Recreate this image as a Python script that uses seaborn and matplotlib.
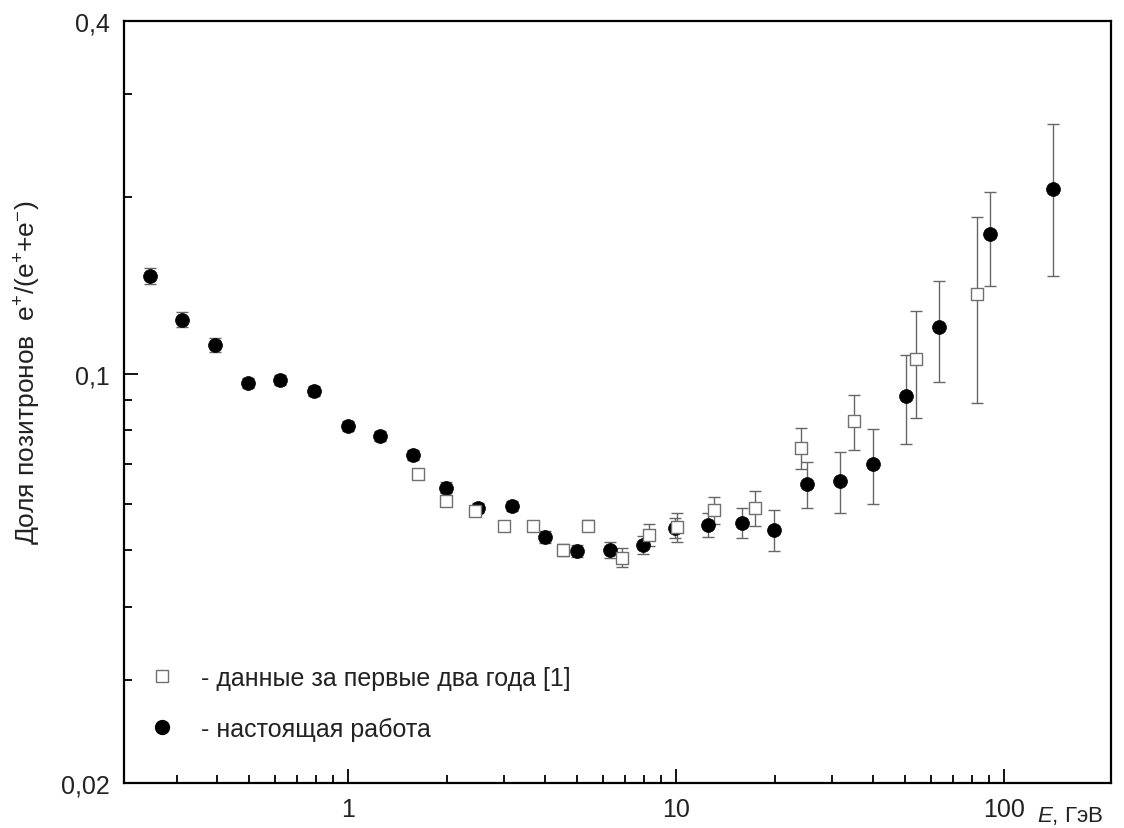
import matplotlib
matplotlib.use("Agg")
import matplotlib.pyplot as plt
import numpy as np
import pandas as pd
import seaborn as sns
from matplotlib.ticker import LogLocator, NullFormatter, FixedLocator, FixedFormatter
from matplotlib.lines import Line2D

# Present work: energy (GeV), positron fraction e+/(e+ + e-), symmetric error
energy_new = [0.249, 0.312, 0.393, 0.496, 0.621, 0.787, 1.00, 1.25, 1.58, 1.99,
              2.49, 3.16, 3.98, 4.99, 6.29, 7.93, 9.93, 12.5, 15.9, 19.9,
              25.1, 31.6, 39.8, 50.2, 63.4, 90.6, 141.0]
frac_new = [0.147, 0.1237, 0.1121, 0.0965, 0.0977, 0.0935, 0.0815, 0.0783, 0.0727, 0.0639,
            0.0590, 0.0595, 0.0526, 0.0498, 0.0500, 0.0510, 0.0545, 0.0552, 0.0556, 0.0541,
            0.0648, 0.0656, 0.0702, 0.0917, 0.1203, 0.1728, 0.207]
err_new = [0.0047, 0.0035, 0.0031, 0.0019, 0.0019, 0.0018, 0.0016, 0.0015, 0.0014, 0.0013,
           0.0012, 0.0012, 0.0013, 0.0012, 0.0015, 0.0018, 0.0022, 0.0026, 0.0033, 0.0043,
           0.0058, 0.0078, 0.0103, 0.0159, 0.0235, 0.0315, 0.0600]

# First two years of data [1]
energy_old = [1.635, 1.99, 2.44, 2.99, 3.66, 4.52, 5.39, 6.84, 8.27, 10.1,
              13.06, 17.4, 24.0, 34.9, 53.9, 82.7]
frac_old = [0.0675, 0.0607, 0.0583, 0.0550, 0.0550, 0.0500, 0.0550, 0.0485, 0.0530, 0.0547,
            0.0585, 0.0590, 0.0747, 0.0831, 0.1060, 0.1370]
err_old = [0.0011, 0.0010, 0.0010, 0.0011, 0.0011, 0.0011, 0.0012, 0.0018, 0.0023, 0.0031,
           0.0031, 0.0041, 0.0061, 0.0090, 0.0219, 0.0478]

y_ticks = [0.02, 0.1, 0.4]
y_tick_labels = ["0,02", "0,1", "0,4"]
x_ticks = [1, 10, 100]
x_tick_labels = ["1", "10", "100"]

legend_labels = ["- данные за первые два года [1]", "- настоящая работа"]

df_new = pd.DataFrame({"E": energy_new, "frac": frac_new, "err": err_new})
df_old = pd.DataFrame({"E": energy_old, "frac": frac_old, "err": err_old})

sns.set_theme(style="white")
plt.rcParams["font.family"] = ["Liberation Sans", "DejaVu Sans"]
plt.rcParams["mathtext.fontset"] = "custom"
plt.rcParams["mathtext.rm"] = "Liberation Sans"
plt.rcParams["mathtext.it"] = "Liberation Sans:italic"

text_color = "#222222"
bar_color = "#666666"
font_size = 18

fig = plt.figure(figsize=(11.24, 8.29), dpi=100)
ax = fig.add_axes([124 / 1124, 1 - 784 / 829, (1111 - 124) / 1124, (784 - 22) / 829])
ax.set_xscale("log")
ax.set_yscale("log")

# error bars under the markers
ax.errorbar(df_new["E"], df_new["frac"], yerr=df_new["err"], fmt="none",
            ecolor=bar_color, elinewidth=1.0, capsize=4.6, capthick=1.0, zorder=2)
ax.errorbar(df_old["E"], df_old["frac"], yerr=df_old["err"], fmt="none",
            ecolor=bar_color, elinewidth=1.0, capsize=4.6, capthick=1.0, zorder=2)

sns.scatterplot(data=df_new, x="E", y="frac", ax=ax, marker="o", s=100,
                color="black", edgecolor="black", linewidth=0.5, zorder=3, legend=False)
sns.scatterplot(data=df_old, x="E", y="frac", ax=ax, marker="s", s=70,
                facecolor="white", edgecolor="#707070", linewidth=1.0, zorder=4, legend=False)

ax.set_xlim(0.2075, 212)
ax.set_ylim(0.02, 0.4)

# minor ticks at 2..9 of each decade, the x ones stopping at 90 GeV
x_minor = [s * 10.0 ** d for d in (-1, 0, 1) for s in range(2, 10)]

ax.yaxis.set_major_locator(FixedLocator(y_ticks))
ax.yaxis.set_major_formatter(FixedFormatter(y_tick_labels))
ax.yaxis.set_minor_locator(LogLocator(base=10, subs=np.arange(2, 10), numticks=20))
ax.yaxis.set_minor_formatter(NullFormatter())
ax.xaxis.set_major_locator(FixedLocator(x_ticks))
ax.xaxis.set_major_formatter(FixedFormatter(x_tick_labels))
ax.xaxis.set_minor_locator(FixedLocator(x_minor))
ax.xaxis.set_minor_formatter(NullFormatter())

ax.tick_params(which="both", direction="in", bottom=True, left=True, top=False, right=False,
               color="black", width=1.3, labelsize=font_size, labelcolor=text_color, pad=10)
ax.tick_params(which="major", length=10)
ax.tick_params(which="minor", length=5.5)

for sp in ax.spines.values():
    sp.set_linewidth(1.6)
    sp.set_color("black")

ax.set_xlabel("")
ax.set_ylabel("Доля позитронов  e$^{+}$/(e$^{+}$+e$^{-}$)", fontsize=19, color=text_color)
ax.yaxis.set_label_coords(-0.082, 0.54)

ax.text(0.992, -0.0499, "$\\mathit{E}$, ГэВ", transform=ax.transAxes,
        ha="right", va="baseline", fontsize=16, color=text_color)

handles = [
    Line2D([], [], linestyle="none", marker="s", markersize=8.3,
           markerfacecolor="white", markeredgecolor="#707070", markeredgewidth=1.0),
    Line2D([], [], linestyle="none", marker="o", markersize=10,
           markerfacecolor="black", markeredgecolor="black"),
]
ax.legend(handles, legend_labels, loc="lower left", bbox_to_anchor=(0.0, 0.026),
          frameon=False, fontsize=font_size, labelcolor=text_color,
          handletextpad=0.98, labelspacing=1.07, handlelength=1.2)

fig.savefig("out.png", dpi=100)
